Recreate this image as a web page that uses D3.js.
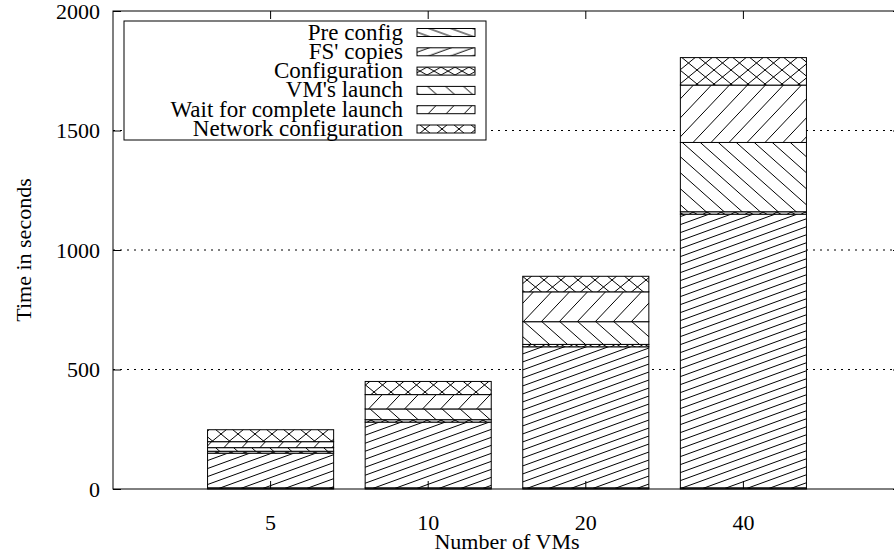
<!DOCTYPE html>
<html>
<head>
<meta charset="utf-8">
<script src="https://cdn.jsdelivr.net/npm/d3@7"></script>
<style>
  body { margin: 0; background: #fff; }
  svg text { font-family: "Liberation Serif", "DejaVu Serif", serif; }
</style>
</head>
<body>
<div id="chart"></div>
<script>
// stacked histogram: time per step vs number of VMs
const categories = ["5", "10", "20", "40"];
const seriesNames = ["Pre config", "FS' copies", "Configuration", "VM's launch", "Wait for complete launch", "Network configuration"];

const preConfig     = [5, 5, 5, 5];
const fsCopies      = [145, 275, 590, 1145];
const configuration = [8, 10, 10, 10];
const vmLaunch      = [15, 45, 95, 290];
const waitLaunch    = [25, 60, 125, 240];
const networkConfig = [50, 55, 65, 115];

const yTicks = [0, 500, 1000, 1500, 2000];
const gridTicks = [500, 1000, 1500];

const width = 894, height = 554;
const margin = { left: 113, top: 11, right: 901, bottom: 489 };
const fontFamily = "Liberation Serif";

const rows = categories.map((c, i) => ({
    cat: c,
    [seriesNames[0]]: preConfig[i],
    [seriesNames[1]]: fsCopies[i],
    [seriesNames[2]]: configuration[i],
    [seriesNames[3]]: vmLaunch[i],
    [seriesNames[4]]: waitLaunch[i],
    [seriesNames[5]]: networkConfig[i]
}));

const stacked = d3.stack().keys(seriesNames)(rows);

const svg = d3.select("#chart").append("svg")
    .attr("width", width)
    .attr("height", height)
    .attr("font-family", fontFamily);

// hatch patterns, gnuplot style
const defs = svg.append("defs");
function hatch(id, w, h, kind) {
    const p = defs.append("pattern")
        .attr("id", id)
        .attr("patternUnits", "userSpaceOnUse")
        .attr("width", w)
        .attr("height", h);
    p.append("rect").attr("width", w).attr("height", h).attr("fill", "#fff");
    const g = p.append("g").attr("stroke", "#000").attr("stroke-width", 1).attr("fill", "none");
    const up = k => `M${-w},${2 * h + k * h} L${2 * w},${-h + k * h}`;
    const down = k => `M${-w},${-h + k * h} L${2 * w},${2 * h + k * h}`;
    [-1, 0, 1].forEach(k => {
        if (kind === "up" || kind === "cross") g.append("path").attr("d", up(k));
        if (kind === "down" || kind === "cross") g.append("path").attr("d", down(k));
    });
}
hatch("p0", 22, 8, "down");
hatch("p1", 22, 8, "up");
hatch("p2", 14, 8, "cross");
hatch("p3", 18, 16, "down");
hatch("p4", 18, 19, "up");
hatch("p5", 17, 14, "cross");
const fills = ["url(#p0)", "url(#p1)", "url(#p2)", "url(#p3)", "url(#p4)", "url(#p5)"];

const x = d3.scaleBand()
    .domain(categories)
    .range([margin.left, margin.right])
    .paddingInner(0.2)
    .paddingOuter(0.6);

const y = d3.scaleLinear()
    .domain([0, 2000])
    .range([margin.bottom, margin.top]);

// dotted grid
svg.append("g")
    .selectAll("line")
    .data(gridTicks)
    .join("line")
    .attr("x1", margin.left)
    .attr("x2", margin.right)
    .attr("y1", d => y(d))
    .attr("y2", d => y(d))
    .attr("stroke", "#000")
    .attr("stroke-width", 1)
    .attr("stroke-dasharray", "2,5");

// bars
svg.append("g")
    .selectAll("g")
    .data(stacked)
    .join("g")
    .attr("fill", (d, i) => fills[i])
    .selectAll("rect")
    .data(d => d)
    .join("rect")
    .attr("x", d => x(d.data.cat))
    .attr("width", x.bandwidth())
    .attr("y", d => y(d[1]))
    .attr("height", d => y(d[0]) - y(d[1]))
    .attr("stroke", "#000")
    .attr("stroke-width", 1);

// axes, ticks inward and mirrored
const fontSize = 22;
svg.append("g")
    .attr("transform", `translate(${margin.left},0)`)
    .call(d3.axisLeft(y).tickValues(yTicks).tickFormat(d3.format("d"))
        .tickSizeInner(-8).tickSizeOuter(0).tickPadding(13));
svg.append("g")
    .attr("transform", `translate(${margin.right},0)`)
    .call(d3.axisRight(y).tickValues(yTicks).tickSizeInner(-8).tickSizeOuter(0).tickFormat(""));
svg.append("g")
    .attr("transform", `translate(0,${margin.bottom})`)
    .call(d3.axisBottom(x).tickSizeInner(-8).tickSizeOuter(0).tickPadding(25));
svg.append("g")
    .attr("transform", `translate(0,${margin.top})`)
    .call(d3.axisTop(x).tickSizeInner(-8).tickSizeOuter(0).tickFormat(""));

svg.selectAll(".domain").remove();
svg.selectAll(".tick line").attr("stroke", "#000");
svg.selectAll("g").attr("font-family", null).attr("font-size", null);
svg.selectAll(".tick text")
    .attr("font-family", fontFamily)
    .attr("font-size", fontSize)
    .attr("fill", "#000");

// border
svg.append("rect")
    .attr("x", margin.left)
    .attr("y", margin.top)
    .attr("width", margin.right - margin.left)
    .attr("height", margin.bottom - margin.top)
    .attr("fill", "none")
    .attr("stroke", "#000")
    .attr("stroke-width", 1);

// axis titles
svg.append("text")
    .attr("transform", `translate(31,250) rotate(-90)`)
    .attr("text-anchor", "middle")
    .attr("font-family", fontFamily)
    .attr("font-size", fontSize)
    .text("Time in seconds");

svg.append("text")
    .attr("x", (margin.left + margin.right) / 2)
    .attr("y", 549)
    .attr("text-anchor", "middle")
    .attr("font-family", fontFamily)
    .attr("font-size", fontSize)
    .text("Number of VMs");

// legend
const legend = svg.append("g");
legend.append("rect")
    .attr("x", 124)
    .attr("y", 21)
    .attr("width", 362)
    .attr("height", 119)
    .attr("fill", "#fff")
    .attr("stroke", "#000")
    .attr("stroke-width", 1);

const rowH = 19.3;
const item = legend.selectAll("g.item")
    .data(seriesNames)
    .join("g")
    .attr("class", "item")
    .attr("transform", (d, i) => `translate(0,${32.5 + i * rowH})`);

item.append("text")
    .attr("x", 403)
    .attr("y", 7)
    .attr("text-anchor", "end")
    .attr("font-family", fontFamily)
    .attr("font-size", 23)
    .text(d => d);

item.append("rect")
    .attr("x", 417)
    .attr("y", -4)
    .attr("width", 58)
    .attr("height", 8)
    .attr("fill", (d, i) => fills[i])
    .attr("stroke", "#000")
    .attr("stroke-width", 1);
</script>
</body>
</html>
